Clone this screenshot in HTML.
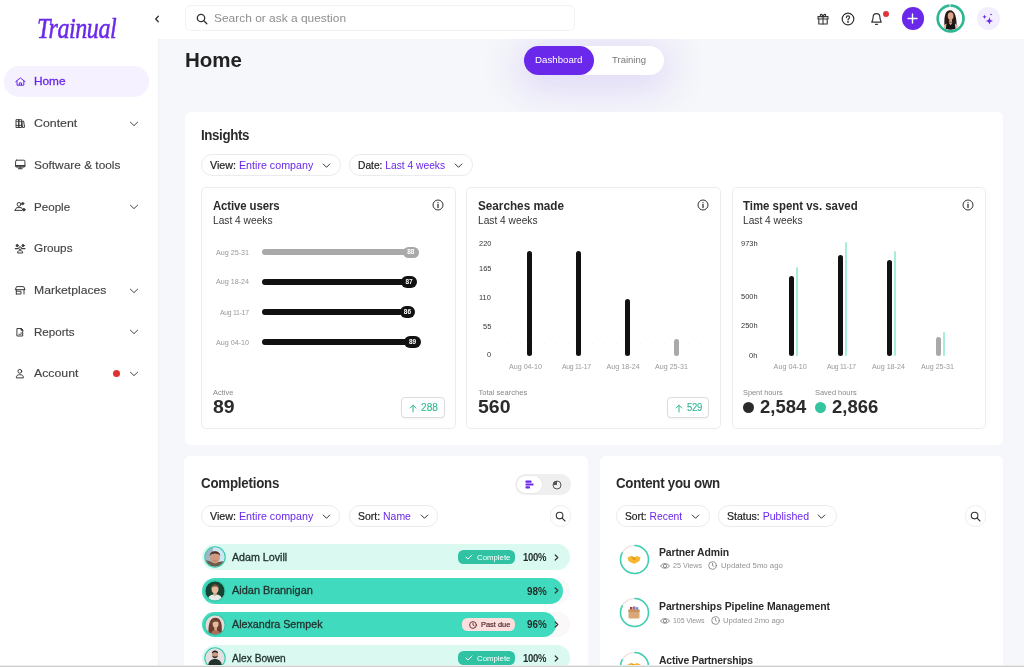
<!DOCTYPE html>
<html lang="en"><head><meta charset="utf-8"><title>Trainual - Home</title><style>
html,body{margin:0;padding:0}
body{width:1024px;height:667px;overflow:hidden;background:#f5f7fa;position:relative;font-family:"Liberation Sans",sans-serif}
.t{position:absolute;white-space:nowrap;display:block;transform-origin:0 50%}
.b{position:absolute;display:block}
</style></head><body>
<div class="b" style="left:0.0px;top:0.0px;width:157.5px;height:667.0px;background:#fff;border-radius:0px;box-shadow:1px 0 3px rgba(40,50,70,.04);"></div>
<span class="t" style="left:36.5px;top:9.2px;font-family:'Liberation Serif',serif;font-style:italic;font-weight:400;font-size:26px;line-height:34px;color:#6a28ea;transform-origin:0 0;transform:scale(.925,1.15);letter-spacing:-.5px;-webkit-text-stroke:.45px #6a28ea">Trainual</span>
<div class="b" style="left:4.0px;top:66.3px;width:145.0px;height:30.6px;background:#f5f1fe;border-radius:15.3px;"></div>
<span class="t" style="left:33.8px;top:76.4px;font-size:11.5px;line-height:11.5px;color:#6a28ea;transform:scaleX(1.027);-webkit-text-stroke:0.3px #6a28ea;">Home</span>
<span class="t" style="left:33.8px;top:118.1px;font-size:11.5px;line-height:11.5px;color:#444;transform:scaleX(1.073);-webkit-text-stroke:0.15px #444;">Content</span>
<svg class="b" style="left:129px;top:120.7px" width="10" height="6" viewBox="0 0 10 6"><path d="M1.400 1.200 L5 4.600 L8.600 1.200" fill="none" stroke="#444" stroke-width="1" stroke-linecap="round" stroke-linejoin="round"/></svg>
<span class="t" style="left:33.8px;top:159.8px;font-size:11.5px;line-height:11.5px;color:#444;transform:scaleX(1.032);-webkit-text-stroke:0.15px #444;">Software &amp; tools</span>
<span class="t" style="left:33.8px;top:201.5px;font-size:11.5px;line-height:11.5px;color:#444;transform:scaleX(1.008);-webkit-text-stroke:0.15px #444;">People</span>
<svg class="b" style="left:129px;top:204.1px" width="10" height="6" viewBox="0 0 10 6"><path d="M1.400 1.200 L5 4.600 L8.600 1.200" fill="none" stroke="#444" stroke-width="1" stroke-linecap="round" stroke-linejoin="round"/></svg>
<span class="t" style="left:33.8px;top:243.2px;font-size:11.5px;line-height:11.5px;color:#444;transform:scaleX(1.021);-webkit-text-stroke:0.15px #444;">Groups</span>
<span class="t" style="left:33.8px;top:284.9px;font-size:11.5px;line-height:11.5px;color:#444;transform:scaleX(1.059);-webkit-text-stroke:0.15px #444;">Marketplaces</span>
<svg class="b" style="left:129px;top:287.5px" width="10" height="6" viewBox="0 0 10 6"><path d="M1.400 1.200 L5 4.600 L8.600 1.200" fill="none" stroke="#444" stroke-width="1" stroke-linecap="round" stroke-linejoin="round"/></svg>
<span class="t" style="left:33.8px;top:326.6px;font-size:11.5px;line-height:11.5px;color:#444;transform:scaleX(1.008);-webkit-text-stroke:0.15px #444;">Reports</span>
<svg class="b" style="left:129px;top:329.2px" width="10" height="6" viewBox="0 0 10 6"><path d="M1.400 1.200 L5 4.600 L8.600 1.200" fill="none" stroke="#444" stroke-width="1" stroke-linecap="round" stroke-linejoin="round"/></svg>
<span class="t" style="left:33.8px;top:368.3px;font-size:11.5px;line-height:11.5px;color:#444;transform:scaleX(1.069);-webkit-text-stroke:0.15px #444;">Account</span>
<svg class="b" style="left:129px;top:370.9px" width="10" height="6" viewBox="0 0 10 6"><path d="M1.400 1.200 L5 4.600 L8.600 1.200" fill="none" stroke="#444" stroke-width="1" stroke-linecap="round" stroke-linejoin="round"/></svg>
<div class="b" style="left:113.2px;top:370.0px;width:7.0px;height:7.0px;background:#e03131;border-radius:4px;"></div>
<svg class="b" style="left:0;top:0" width="158" height="400" viewBox="0 0 158 400" fill="none" stroke="#3d3d3d" stroke-width="1" stroke-linecap="round" stroke-linejoin="round">
<g stroke="#6a28ea"><path d="M15.700 81.700 L20.400 77.900 L25.100 81.700"/><path d="M17 80.900 V85.200 H23.800 V80.900"/><path d="M19.300 85.200 V82.900 H21.500 V85.200"/></g>
<g><rect x="16.400" y="119.700" width="2.600" height="7.800"/><rect x="19" y="119.700" width="2.600" height="7.800"/><path d="M22.300 121.300 L23.600 121 L24.600 127.200 L22.900 127.500 Z"/><path d="M16.400 125.400 H21.600" /><path d="M16.400 121.600 H21.600" stroke-width=".7"/></g>
<g><rect x="15.600" y="160.200" width="9.300" height="6.900" rx="1"/><path d="M15.800 165.900 H24.700" stroke-width="1.600"/><path d="M18.300 168.700 H22.200"/><path d="M20.250 167.200 V168.700" /></g>
<g><circle cx="19" cy="204.400" r="1.900"/><path d="M15 210.400 L16.700 207.600 H21.300 L22.600 209.600"/><path d="M15 210.400 H21.800"/><circle cx="22.700" cy="203.600" r="1.100" fill="#3d3d3d"/><circle cx="23.900" cy="209.700" r="1.200" fill="#3d3d3d"/></g>
<g><circle cx="17.200" cy="245.600" r="1.100" fill="#3d3d3d"/><circle cx="23.100" cy="245.600" r="1.100" fill="#3d3d3d"/><path d="M15.400 248.600 H18" stroke-width="1.300"/><path d="M22.300 248.600 H24.900" stroke-width="1.300"/><circle cx="20.150" cy="248.200" r="1.400"/><path d="M17.600 252.600 C17.600 250.800 18.800 250.600 20.150 250.600 C21.500 250.600 22.700 250.800 22.700 252.600 Z"/></g>
<g><path d="M15.400 289.300 L16.600 286.600 H23.700 L24.900 289.300 Z"/><path d="M16.300 289.300 V294"/><path d="M24 289.300 V294"/><path d="M16.300 291.200 H21 V294 H16.300"/></g>
<g><path d="M17.300 328.500 H21 L22.700 330.200 V336 H17.300 Z"/><path d="M21 328.500 V330.200 H22.700 Z" fill="#3d3d3d"/><path d="M18.800 334.300 H21.200 V332.600" stroke-width=".8"/></g>
<g><circle cx="19.850" cy="371.300" r="1.900"/><path d="M16.300 377.500 C16.300 375.300 17.700 374.700 19.850 374.700 C22 374.700 23.400 375.300 23.400 377.500 Z"/></g>
</svg>
<div class="b" style="left:157.5px;top:0.0px;width:866.5px;height:38.5px;background:#fff;border-radius:0px;"></div>
<div class="b" style="left:147.5px;top:9.0px;width:20.0px;height:20.0px;background:#fff;border-radius:10px;box-shadow:0 0 3px rgba(40,50,70,.025);"></div>
<svg class="b" style="left:153.5px;top:14.8px" width="6" height="8" viewBox="0 0 6 8"><path d="M4.3 1.2 L1.7 4 L4.3 6.8" fill="none" stroke="#333" stroke-width="1.3" stroke-linecap="round" stroke-linejoin="round"/></svg>
<div class="b" style="left:184.6px;top:5.4px;width:390.4px;height:26.1px;background:#fff;border-radius:6px;border:1px solid #f2f2f4;box-sizing:border-box;"></div>
<svg class="b" style="left:195.5px;top:12.5px" width="12" height="12" viewBox="0 0 12 12" fill="none" stroke="#333" stroke-width="1.3" stroke-linecap="round"><circle cx="5" cy="5" r="3.7"/><path d="M7.8 7.8 L10.8 10.8"/></svg>
<span class="t" style="left:213.6px;top:12.6px;font-size:11.5px;line-height:11.5px;color:#8e8e8e;transform:scaleX(1.038);">Search or ask a question</span>
<svg class="b" style="left:816.5px;top:12.5px" width="12" height="12" viewBox="0 0 12 12" fill="none" stroke="#333" stroke-width="1.1" stroke-linejoin="round" stroke-linecap="round"><rect x="1" y="3.6" width="10" height="2.4"/><path d="M1.8 6 V11 H10.2 V6"/><path d="M6 3.6 V11"/><path d="M6 3.6 C4 3.6 3 2.8 3.4 1.8 C3.9 .8 5.6 1.4 6 3.6 C6.4 1.4 8.100 .8 8.6 1.8 C9 2.8 8 3.6 6 3.6"/></svg>
<svg class="b" style="left:841px;top:12px" width="14" height="14" viewBox="0 0 14 14" fill="none" stroke="#333" stroke-width="1.2" stroke-linecap="round"><circle cx="7" cy="7" r="5.8"/><path d="M5.4 5.6 C5.4 4.4 6.2 3.9 7 3.9 C7.9 3.9 8.6 4.5 8.6 5.4 C8.6 6.5 7 6.6 7 7.9"/><circle cx="7" cy="9.9" r=".35" fill="#333"/></svg>
<svg class="b" style="left:870px;top:11.5px" width="13" height="14" viewBox="0 0 13 14" fill="none" stroke="#333" stroke-width="1.2" stroke-linecap="round" stroke-linejoin="round"><path d="M6.500 1.600 C4.200 1.600 3.100 3.300 3.100 5.300 C3.100 8.300 1.800 9.400 1.800 10.200 H11.200 C11.200 9.400 9.900 8.300 9.900 5.300 C9.900 3.300 8.800 1.600 6.500 1.600 Z"/><path d="M5.500 12.300 H7.500"/></svg>
<div class="b" style="left:883.0px;top:10.5px;width:6.0px;height:6.0px;background:#e0353b;border-radius:3px;"></div>
<div class="b" style="left:901.5px;top:7.3px;width:22.5px;height:22.5px;background:#6a28ea;border-radius:12px;"></div>
<svg class="b" style="left:907.2px;top:13px" width="11" height="11" viewBox="0 0 11 11"><path d="M5.500 1 V10 M1 5.500 H10" stroke="#fff" stroke-width="1.4" stroke-linecap="round"/></svg>
<svg class="b" style="left:936px;top:4px" width="29" height="29" viewBox="0 0 29 29"><defs><clipPath id="cpa"><circle cx="14.600" cy="14.500" r="11.200"/></clipPath></defs><circle cx="14.600" cy="14.500" r="12.900" fill="#fff" stroke="#2eb793" stroke-width="2.700"/><path d="M14 0 V4" stroke="#fff" stroke-width=".9"/><g clip-path="url(#cpa)"><rect width="29" height="29" fill="#fdfbfb"/><path d="M8.800 25 C7.600 15 8.500 6.200 13.800 6.200 C19.500 6.200 20.600 14 20.800 25 Z" fill="#2a1a15"/><ellipse cx="14.600" cy="12" rx="2.900" ry="3.700" fill="#dcA78d"/><path d="M13.200 15 H16 V19 H13.200 Z" fill="#d39b82"/><path d="M7.600 21.500 L10.500 19.500 L10.500 26 L8 26 Z" fill="#e2b39c"/><path d="M21.800 21.500 L19 19.500 L19 26 L21.500 26 Z" fill="#e2b39c"/><path d="M10 26 C10 20.500 11 18.600 14.600 18.600 C18.200 18.600 19.400 20.500 19.400 26 Z" fill="#141418"/><path d="M12.600 18.700 L14.600 21.200 L16.500 18.700 Z" fill="#d9a489"/></g></svg>
<div class="b" style="left:976.6px;top:6.8px;width:23.2px;height:23.2px;background:#f3eefd;border-radius:12px;"></div>
<svg class="b" style="left:980px;top:11px" width="16" height="16" viewBox="980 11 16 16" fill="#6a28ea"><path d="M989.400 17.300 L990.400 19.900 L993 20.900 L990.400 21.900 L989.400 24.500 L988.400 21.900 L985.800 20.900 L988.400 19.900 Z"/><path d="M984.500 14.600 L985.100 16.200 L986.700 16.800 L985.100 17.400 L984.500 19 L983.900 17.400 L982.300 16.800 L983.900 16.200 Z"/><circle cx="991" cy="14.500" r=".8"/></svg>
<span class="t" style="left:185.0px;top:50.1px;font-size:20px;line-height:20px;color:#222;font-weight:700;transform:scaleX(1.026);">Home</span>
<div class="b" style="left:157.5px;top:38.5px;width:866.5px;height:200px;overflow:hidden"><div class="b" style="left:366.5px;top:7.3px;width:140.2px;height:29.4px;border-radius:15px;background:#fff;box-shadow:0 7px 38px 9px rgba(106,40,234,.14)"></div></div>
<div class="b" style="left:524.0px;top:45.8px;width:69.8px;height:29.4px;background:#6a28ea;border-radius:15px;"></div>
<span class="t" style="left:535.0px;top:55.7px;font-size:9.3px;line-height:9.3px;color:#fff;transform:scaleX(1.044);">Dashboard</span>
<span class="t" style="left:611.5px;top:55.7px;font-size:9.3px;line-height:9.3px;color:#777;transform:scaleX(1.025);">Training</span>
<div class="b" style="left:184.5px;top:111.5px;width:818.7px;height:333.5px;background:#fff;border-radius:6px;"></div>
<span class="t" style="left:201.4px;top:128.3px;font-size:14px;line-height:14px;color:#2b2b2b;font-weight:700;letter-spacing:-0.40px;transform:scaleX(0.950);">Insights</span>
<div class="b" style="left:201.4px;top:154.2px;width:139.2px;height:21.8px;background:#fff;border-radius:10.900000000000006px;border:1px solid #ebebee;box-sizing:border-box;"></div>
<span class="t" style="left:210.0px;top:161.2px;font-size:10.3px;line-height:10.3px;letter-spacing:0.00px;transform:scaleX(1.039);color:#222;-webkit-text-stroke:.2px #222">View: <span style="color:#6a28ea;-webkit-text-stroke:0">Entire company</span></span>
<svg class="b" style="left:322.0px;top:163.3px" width="9" height="6" viewBox="0 0 9 6"><path d="M1.200 1 L4.500 4.300 L7.800 1" fill="none" stroke="#333" stroke-width="1" stroke-linecap="round" stroke-linejoin="round"/></svg>
<div class="b" style="left:349.0px;top:154.2px;width:124.0px;height:21.8px;background:#fff;border-radius:10.900000000000006px;border:1px solid #ebebee;box-sizing:border-box;"></div>
<span class="t" style="left:357.9px;top:161.2px;font-size:10.3px;line-height:10.3px;letter-spacing:0.00px;transform:scaleX(0.994);color:#222;-webkit-text-stroke:.2px #222">Date: <span style="color:#6a28ea;-webkit-text-stroke:0">Last 4 weeks</span></span>
<svg class="b" style="left:453.8px;top:163.3px" width="9" height="6" viewBox="0 0 9 6"><path d="M1.200 1 L4.500 4.300 L7.800 1" fill="none" stroke="#333" stroke-width="1" stroke-linecap="round" stroke-linejoin="round"/></svg>
<div class="b" style="left:201.2px;top:187.3px;width:254.4px;height:241.7px;background:#fff;border-radius:5px;border:1px solid #ececef;box-sizing:border-box;"></div>
<span class="t" style="left:212.8px;top:199.9px;font-size:12px;line-height:12px;color:#2b2b2b;font-weight:700;letter-spacing:-0.12px;transform:scaleX(0.950);">Active users</span>
<span class="t" style="left:212.8px;top:215.8px;font-size:10.3px;line-height:10.3px;color:#333;transform:scaleX(0.990);">Last 4 weeks</span>
<svg class="b" style="left:431.5px;top:199.0px" width="12" height="12" viewBox="0 0 12 12" fill="none" stroke="#333" stroke-width="1"><circle cx="6" cy="6" r="5"/><path d="M6 5.400 V8.600" stroke-width="1.300" stroke-linecap="round"/><circle cx="6" cy="3.600" r=".7" fill="#333" stroke="none"/></svg>
<div class="b" style="left:466.4px;top:187.3px;width:254.8px;height:241.7px;background:#fff;border-radius:5px;border:1px solid #ececef;box-sizing:border-box;"></div>
<span class="t" style="left:478.0px;top:199.9px;font-size:12px;line-height:12px;color:#2b2b2b;font-weight:700;transform:scaleX(0.977);">Searches made</span>
<span class="t" style="left:478.0px;top:215.8px;font-size:10.3px;line-height:10.3px;color:#333;transform:scaleX(0.990);">Last 4 weeks</span>
<svg class="b" style="left:697.1px;top:199.0px" width="12" height="12" viewBox="0 0 12 12" fill="none" stroke="#333" stroke-width="1"><circle cx="6" cy="6" r="5"/><path d="M6 5.400 V8.600" stroke-width="1.300" stroke-linecap="round"/><circle cx="6" cy="3.600" r=".7" fill="#333" stroke="none"/></svg>
<div class="b" style="left:731.5px;top:187.3px;width:254.9px;height:241.7px;background:#fff;border-radius:5px;border:1px solid #ececef;box-sizing:border-box;"></div>
<span class="t" style="left:743.1px;top:199.9px;font-size:12px;line-height:12px;color:#2b2b2b;font-weight:700;transform:scaleX(0.951);">Time spent vs. saved</span>
<span class="t" style="left:743.1px;top:215.8px;font-size:10.3px;line-height:10.3px;color:#333;transform:scaleX(0.990);">Last 4 weeks</span>
<svg class="b" style="left:962.3px;top:199.0px" width="12" height="12" viewBox="0 0 12 12" fill="none" stroke="#333" stroke-width="1"><circle cx="6" cy="6" r="5"/><path d="M6 5.400 V8.600" stroke-width="1.300" stroke-linecap="round"/><circle cx="6" cy="3.600" r=".7" fill="#333" stroke="none"/></svg>
<span class="t" style="left:215.9px;top:248.8px;font-size:7.2px;line-height:7.2px;color:#999;">Aug 25-31</span>
<div class="b" style="left:261.7px;top:249.4px;width:145.0px;height:5.8px;background:#a9a9a9;border-radius:3px;"></div>
<div class="b" style="left:402.7px;top:246.5px;width:16.3px;height:11.6px;background:#a9a9a9;border-radius:6px;"></div>
<span class="t" style="left:407.2px;top:249.2px;font-size:6.5px;line-height:6.5px;color:#fff;font-weight:700;">88</span>
<span class="t" style="left:215.9px;top:278.4px;font-size:7.2px;line-height:7.2px;color:#999;">Aug 18-24</span>
<div class="b" style="left:261.7px;top:279.0px;width:143.3px;height:5.8px;background:#111;border-radius:3px;"></div>
<div class="b" style="left:401.0px;top:276.1px;width:16.2px;height:11.6px;background:#111;border-radius:6px;"></div>
<span class="t" style="left:405.5px;top:278.8px;font-size:6.5px;line-height:6.5px;color:#fff;font-weight:700;">87</span>
<span class="t" style="left:220.1px;top:308.6px;font-size:7.2px;line-height:7.2px;color:#999;letter-spacing:-0.27px;transform:scaleX(0.950);">Aug 11-17</span>
<div class="b" style="left:261.7px;top:309.2px;width:141.8px;height:5.8px;background:#111;border-radius:3px;"></div>
<div class="b" style="left:399.5px;top:306.3px;width:15.8px;height:11.6px;background:#111;border-radius:6px;"></div>
<span class="t" style="left:403.8px;top:309.0px;font-size:6.5px;line-height:6.5px;color:#fff;font-weight:700;">86</span>
<span class="t" style="left:215.9px;top:338.5px;font-size:7.2px;line-height:7.2px;color:#999;">Aug 04-10</span>
<div class="b" style="left:261.7px;top:339.1px;width:146.5px;height:5.8px;background:#111;border-radius:3px;"></div>
<div class="b" style="left:404.2px;top:336.2px;width:16.8px;height:11.6px;background:#111;border-radius:6px;"></div>
<span class="t" style="left:409.0px;top:338.9px;font-size:6.5px;line-height:6.5px;color:#fff;font-weight:700;">89</span>
<span class="t" style="left:213.0px;top:388.6px;font-size:7.6px;line-height:7.6px;color:#888;transform:scaleX(0.986);">Active</span>
<span class="t" style="left:213.0px;top:398.2px;font-size:18px;line-height:18px;color:#2b2b2b;font-weight:700;transform:scaleX(1.079);">89</span>
<div class="b" style="left:400.5px;top:397.2px;width:44.3px;height:21.1px;background:#fff;border-radius:4px;border:1px solid #dcdce0;box-sizing:border-box;box-shadow:0 1px 2px rgba(0,0,0,.05);"></div>
<svg class="b" style="left:409.0px;top:403.5px" width="8" height="9" viewBox="0 0 8 9"><path d="M4 8 V1.200 M1.200 4 L4 1.200 L6.800 4" fill="none" stroke="#2fb892" stroke-width="1" stroke-linecap="round" stroke-linejoin="round"/></svg>
<span class="t" style="left:420.9px;top:402.7px;font-size:10px;line-height:10px;color:#2fb892;transform:scaleX(1.013);-webkit-text-stroke:0.1px #2fb892;">288</span>
<div class="b" style="left:508px;top:241.7px;width:194px;height:1px;background:repeating-linear-gradient(90deg,#f1f1f4 0 1.5px,transparent 1.5px 12px)"></div>
<div class="b" style="left:508px;top:262.0px;width:194px;height:1px;background:repeating-linear-gradient(90deg,#f1f1f4 0 1.5px,transparent 1.5px 12px)"></div>
<div class="b" style="left:508px;top:282.3px;width:194px;height:1px;background:repeating-linear-gradient(90deg,#f1f1f4 0 1.5px,transparent 1.5px 12px)"></div>
<div class="b" style="left:508px;top:302.1px;width:194px;height:1px;background:repeating-linear-gradient(90deg,#f1f1f4 0 1.5px,transparent 1.5px 12px)"></div>
<div class="b" style="left:508px;top:322.1px;width:194px;height:1px;background:repeating-linear-gradient(90deg,#f1f1f4 0 1.5px,transparent 1.5px 12px)"></div>
<div class="b" style="left:508px;top:342.5px;width:194px;height:1px;background:repeating-linear-gradient(90deg,#f1f1f4 0 1.5px,transparent 1.5px 12px)"></div>
<span class="t" style="left:478.8px;top:239.7px;font-size:7px;line-height:7px;color:#333;transform:scaleX(1.060);">220</span>
<span class="t" style="left:478.8px;top:265.0px;font-size:7px;line-height:7px;color:#333;transform:scaleX(1.060);">165</span>
<span class="t" style="left:479.4px;top:294.4px;font-size:7px;line-height:7px;color:#333;transform:scaleX(1.060);">110</span>
<span class="t" style="left:482.9px;top:323.1px;font-size:7px;line-height:7px;color:#333;transform:scaleX(1.060);">55</span>
<span class="t" style="left:487.1px;top:351.4px;font-size:7px;line-height:7px;color:#333;transform:scaleX(1.060);">0</span>
<div class="b" style="left:527.0px;top:250.8px;width:5.2px;height:105.5px;background:#111;border-radius:3px;"></div>
<div class="b" style="left:576.3px;top:250.8px;width:5.2px;height:105.5px;background:#111;border-radius:3px;"></div>
<div class="b" style="left:624.9px;top:298.6px;width:5.2px;height:57.7px;background:#111;border-radius:3px;"></div>
<div class="b" style="left:673.8px;top:338.7px;width:5.2px;height:17.6px;background:#a9a9a9;border-radius:3px;"></div>
<span class="t" style="left:508.6px;top:363.1px;font-size:7.2px;line-height:7.2px;color:#999;transform:scaleX(0.990);">Aug 04-10</span>
<span class="t" style="left:561.7px;top:363.1px;font-size:7.2px;line-height:7.2px;color:#999;letter-spacing:-0.26px;transform:scaleX(0.950);">Aug 11-17</span>
<span class="t" style="left:606.5px;top:363.1px;font-size:7.2px;line-height:7.2px;color:#999;">Aug 18-24</span>
<span class="t" style="left:655.4px;top:363.1px;font-size:7.2px;line-height:7.2px;color:#999;transform:scaleX(0.990);">Aug 25-31</span>
<span class="t" style="left:478.4px;top:388.6px;font-size:7.6px;line-height:7.6px;color:#888;">Total searches</span>
<span class="t" style="left:478.4px;top:398.4px;font-size:18px;line-height:18px;color:#2b2b2b;font-weight:700;transform:scaleX(1.082);">560</span>
<div class="b" style="left:666.5px;top:397.2px;width:42.8px;height:21.1px;background:#fff;border-radius:4px;border:1px solid #dcdce0;box-sizing:border-box;box-shadow:0 1px 2px rgba(0,0,0,.05);"></div>
<svg class="b" style="left:675.0px;top:403.5px" width="8" height="9" viewBox="0 0 8 9"><path d="M4 8 V1.200 M1.200 4 L4 1.200 L6.800 4" fill="none" stroke="#2fb892" stroke-width="1" stroke-linecap="round" stroke-linejoin="round"/></svg>
<span class="t" style="left:686.9px;top:402.7px;font-size:10px;line-height:10px;color:#2fb892;letter-spacing:-0.24px;transform:scaleX(0.950);-webkit-text-stroke:0.1px #2fb892;">529</span>
<div class="b" style="left:773px;top:241.7px;width:194px;height:1px;background:repeating-linear-gradient(90deg,#f1f1f4 0 1.5px,transparent 1.5px 12px)"></div>
<div class="b" style="left:773px;top:262.0px;width:194px;height:1px;background:repeating-linear-gradient(90deg,#f1f1f4 0 1.5px,transparent 1.5px 12px)"></div>
<div class="b" style="left:773px;top:282.3px;width:194px;height:1px;background:repeating-linear-gradient(90deg,#f1f1f4 0 1.5px,transparent 1.5px 12px)"></div>
<div class="b" style="left:773px;top:302.1px;width:194px;height:1px;background:repeating-linear-gradient(90deg,#f1f1f4 0 1.5px,transparent 1.5px 12px)"></div>
<div class="b" style="left:773px;top:322.1px;width:194px;height:1px;background:repeating-linear-gradient(90deg,#f1f1f4 0 1.5px,transparent 1.5px 12px)"></div>
<div class="b" style="left:773px;top:342.5px;width:194px;height:1px;background:repeating-linear-gradient(90deg,#f1f1f4 0 1.5px,transparent 1.5px 12px)"></div>
<span class="t" style="left:740.6px;top:239.7px;font-size:7px;line-height:7px;color:#333;transform:scaleX(1.060);">973h</span>
<span class="t" style="left:740.6px;top:292.6px;font-size:7px;line-height:7px;color:#333;transform:scaleX(1.060);">500h</span>
<span class="t" style="left:740.6px;top:322.4px;font-size:7px;line-height:7px;color:#333;transform:scaleX(1.060);">250h</span>
<span class="t" style="left:748.8px;top:351.5px;font-size:7px;line-height:7px;color:#333;transform:scaleX(1.060);">0h</span>
<div class="b" style="left:795.9px;top:267.3px;width:2.2px;height:89.0px;background:#a8ecdc;border-radius:1.2px;"></div>
<div class="b" style="left:789.0px;top:276.0px;width:5.2px;height:80.3px;background:#111;border-radius:3px;"></div>
<div class="b" style="left:844.8px;top:242.4px;width:2.2px;height:113.9px;background:#a8ecdc;border-radius:1.2px;"></div>
<div class="b" style="left:837.9px;top:254.6px;width:5.2px;height:101.7px;background:#111;border-radius:3px;"></div>
<div class="b" style="left:893.8px;top:250.8px;width:2.2px;height:105.5px;background:#a8ecdc;border-radius:1.2px;"></div>
<div class="b" style="left:886.9px;top:260.4px;width:5.2px;height:95.9px;background:#111;border-radius:3px;"></div>
<div class="b" style="left:942.8px;top:331.5px;width:2.2px;height:24.8px;background:#a8ecdc;border-radius:1.2px;"></div>
<div class="b" style="left:935.9px;top:336.9px;width:5.2px;height:19.4px;background:#a9a9a9;border-radius:3px;"></div>
<span class="t" style="left:773.6px;top:363.1px;font-size:7.2px;line-height:7.2px;color:#999;">Aug 04-10</span>
<span class="t" style="left:827.1px;top:363.1px;font-size:7.2px;line-height:7.2px;color:#999;letter-spacing:-0.26px;transform:scaleX(0.950);">Aug 11-17</span>
<span class="t" style="left:871.9px;top:363.1px;font-size:7.2px;line-height:7.2px;color:#999;transform:scaleX(0.990);">Aug 18-24</span>
<span class="t" style="left:920.9px;top:363.1px;font-size:7.2px;line-height:7.2px;color:#999;transform:scaleX(0.990);">Aug 25-31</span>
<span class="t" style="left:743.4px;top:388.6px;font-size:7.6px;line-height:7.6px;color:#888;transform:scaleX(0.966);">Spent hours</span>
<span class="t" style="left:815.3px;top:388.6px;font-size:7.6px;line-height:7.6px;color:#888;transform:scaleX(0.977);">Saved hours</span>
<div class="b" style="left:742.8px;top:402.2px;width:11.0px;height:11.0px;background:#2b2b2b;border-radius:6px;"></div>
<span class="t" style="left:760.2px;top:398.4px;font-size:18px;line-height:18px;color:#2b2b2b;font-weight:700;transform:scaleX(1.028);">2,584</span>
<div class="b" style="left:815.1px;top:402.2px;width:11.0px;height:11.0px;background:#35c4a0;border-radius:6px;"></div>
<span class="t" style="left:832.1px;top:398.4px;font-size:18px;line-height:18px;color:#2b2b2b;font-weight:700;transform:scaleX(1.028);">2,866</span>
<div class="b" style="left:184.3px;top:456.3px;width:403.9px;height:223.7px;background:#fff;border-radius:6px;"></div>
<span class="t" style="left:201.3px;top:476.0px;font-size:14px;line-height:14px;color:#2b2b2b;font-weight:700;letter-spacing:-0.23px;transform:scaleX(0.950);">Completions</span>
<div class="b" style="left:515.3px;top:473.7px;width:56.2px;height:21.4px;background:#efeff0;border-radius:11px;"></div>
<div class="b" style="left:517.3px;top:475.6px;width:24.5px;height:17.8px;background:#fff;border-radius:9px;box-shadow:0 0 2px rgba(0,0,0,.08);"></div>
<svg class="b" style="left:525px;top:480px" width="9" height="9" viewBox="0 0 9 9" fill="#6a28ea"><rect x="0.500" y="0.600" width="6" height="2.200" rx=".6"/><rect x="0.500" y="3.400" width="8" height="2.200" rx=".6"/><rect x="0.500" y="6.200" width="4.500" height="2.200" rx=".6"/></svg>
<svg class="b" style="left:551.5px;top:479.500px" width="10" height="10" viewBox="0 0 10 10"><circle cx="5" cy="5" r="4" fill="none" stroke="#555" stroke-width="1"/><path d="M5 5 V1 A4 4 0 0 0 1 5 Z" fill="#555"/></svg>
<div class="b" style="left:201.3px;top:505.4px;width:139.1px;height:21.4px;background:#fff;border-radius:10.699999999999989px;border:1px solid #ebebee;box-sizing:border-box;"></div>
<span class="t" style="left:210.0px;top:512.2px;font-size:10.3px;line-height:10.3px;letter-spacing:0.00px;transform:scaleX(1.039);color:#222;-webkit-text-stroke:.2px #222">View: <span style="color:#6a28ea;-webkit-text-stroke:0">Entire company</span></span>
<svg class="b" style="left:322.3px;top:514.3px" width="9" height="6" viewBox="0 0 9 6"><path d="M1.200 1 L4.500 4.300 L7.800 1" fill="none" stroke="#333" stroke-width="1" stroke-linecap="round" stroke-linejoin="round"/></svg>
<div class="b" style="left:349.0px;top:505.4px;width:89.4px;height:21.4px;background:#fff;border-radius:10.699999999999989px;border:1px solid #ebebee;box-sizing:border-box;"></div>
<span class="t" style="left:357.6px;top:512.2px;font-size:10.3px;line-height:10.3px;letter-spacing:0.00px;transform:scaleX(1.016);color:#222;-webkit-text-stroke:.2px #222">Sort: <span style="color:#6a28ea;-webkit-text-stroke:0">Name</span></span>
<svg class="b" style="left:420.3px;top:514.3px" width="9" height="6" viewBox="0 0 9 6"><path d="M1.200 1 L4.500 4.300 L7.800 1" fill="none" stroke="#333" stroke-width="1" stroke-linecap="round" stroke-linejoin="round"/></svg>
<div class="b" style="left:549.9px;top:505.3px;width:21.4px;height:21.4px;background:#fff;border-radius:11px;border:1px solid #ededf0;box-sizing:border-box;"></div>
<svg class="b" style="left:555.1px;top:510.5px" width="11" height="11" viewBox="0 0 11 11" fill="none" stroke="#333" stroke-width="1.100" stroke-linecap="round"><circle cx="4.600" cy="4.600" r="3.300"/><path d="M7.200 7.200 L10 10"/></svg>
<div class="b" style="left:201.8px;top:544.3px;width:368.7px;height:25.9px;background:#d9f9f1;border-radius:13px;"></div>
<svg class="b" style="left:203.9px;top:546.2px" width="22" height="22" viewBox="0 0 22 22"><defs><clipPath id="av0"><circle cx="11" cy="11" r="9.800"/></clipPath></defs><g clip-path="url(#av0)"><rect width="22" height="22" fill="#cfe6f5"/><rect x="0" y="0" width="9" height="22" fill="#9fb6c4"/><path d="M0 22 V15 C4 13.500 6 16 11 17 C16 16 18 14.500 22 16 V22 Z" fill="#6f5a4e"/><ellipse cx="11" cy="11.500" rx="4.900" ry="6" fill="#cf9a80"/><path d="M5.800 10 C5 3.500 17 3.500 16.200 10 C14.500 6.800 7.500 6.800 5.800 10 Z" fill="#4a3428"/><path d="M8.600 14.300 C10 15.600 12 15.600 13.400 14.300 C12 15 10 15 8.600 14.300 Z" fill="#8a4f42"/></g><circle cx="11" cy="11" r="10.200" fill="none" stroke="#35c9ab" stroke-width="1.100"/></svg>
<span class="t" style="left:231.8px;top:552.6px;font-size:10.3px;line-height:10.3px;color:#23332e;transform:scaleX(1.037);-webkit-text-stroke:0.3px #23332e;">Adam Lovill</span>
<div class="b" style="left:458.1px;top:550.2px;width:57.4px;height:13.9px;background:#2fc3a4;border-radius:5.5px;"></div>
<svg class="b" style="left:465.1px;top:554.2px" width="8" height="6" viewBox="0 0 8 6"><path d="M1 3.200 L3 5 L7 1" fill="none" stroke="#fff" stroke-width="1" stroke-linecap="round" stroke-linejoin="round"/></svg>
<span class="t" style="left:477.1px;top:553.7px;font-size:7.3px;line-height:7.3px;color:#fff;transform:scaleX(1.069);">Complete</span>
<span class="t" style="left:522.9px;top:552.9px;font-size:10px;line-height:10px;color:#1f2a27;font-weight:700;letter-spacing:-0.31px;transform:scaleX(0.950);">100%</span>
<svg class="b" style="left:553.8px;top:553.8px" width="5" height="7" viewBox="0 0 5 7"><path d="M1.200 1 L3.800 3.500 L1.200 6" fill="none" stroke="#333" stroke-width="1.200" stroke-linecap="round" stroke-linejoin="round"/></svg>
<div class="b" style="left:201.8px;top:577.9px;width:368.7px;height:25.9px;background:#faf8f8;border-radius:13px;"></div>
<div class="b" style="left:201.8px;top:577.9px;width:361.7px;height:25.9px;background:#40dbbf;border-radius:13px;"></div>
<svg class="b" style="left:203.9px;top:579.9px" width="22" height="22" viewBox="0 0 22 22"><defs><clipPath id="av1"><circle cx="11" cy="11" r="9.800"/></clipPath></defs><g clip-path="url(#av1)"><rect width="22" height="22" fill="#164433"/><path d="M9.300 12 H12.700 V16 H9.300 Z" fill="#d9a98d"/><ellipse cx="11" cy="9" rx="3.500" ry="4.300" fill="#e6b99d"/><path d="M7.300 8.200 C6.800 3.200 15.200 3.200 14.700 8.200 C13.500 5.800 8.500 5.800 7.300 8.200 Z" fill="#7a4e33"/><path d="M3.500 22 C3.500 16.800 6.500 14.800 9 14.600 L11 16.200 L13 14.600 C15.500 14.800 18.500 16.800 18.500 22 Z" fill="#e4e9e6"/></g><circle cx="11" cy="11" r="10.200" fill="none" stroke="#35c9ab" stroke-width="1.100"/></svg>
<span class="t" style="left:231.8px;top:586.3px;font-size:10.3px;line-height:10.3px;color:#23332e;transform:scaleX(1.062);-webkit-text-stroke:0.3px #23332e;">Aidan Brannigan</span>
<span class="t" style="left:526.6px;top:586.5px;font-size:10px;line-height:10px;color:#1f2a27;font-weight:700;transform:scaleX(0.984);">98%</span>
<svg class="b" style="left:553.8px;top:587.4px" width="5" height="7" viewBox="0 0 5 7"><path d="M1.200 1 L3.800 3.500 L1.200 6" fill="none" stroke="#333" stroke-width="1.200" stroke-linecap="round" stroke-linejoin="round"/></svg>
<div class="b" style="left:201.8px;top:611.6px;width:368.7px;height:25.9px;background:#faf8f8;border-radius:13px;"></div>
<div class="b" style="left:201.8px;top:611.6px;width:354.7px;height:25.9px;background:#40dbbf;border-radius:13px;"></div>
<svg class="b" style="left:203.9px;top:613.5px" width="22" height="22" viewBox="0 0 22 22"><defs><clipPath id="av2"><circle cx="11" cy="11" r="9.800"/></clipPath></defs><g clip-path="url(#av2)"><rect width="22" height="22" fill="#e6d9d6"/><path d="M4.500 22 C4 11 5.500 3.800 11.300 3.800 C17.500 3.800 18.500 11 17.500 22 Z" fill="#6a3e2c"/><ellipse cx="11.600" cy="9.800" rx="3" ry="3.900" fill="#e6b8a0"/><path d="M8.600 9 C8.800 5.500 13 4.800 14.800 8 C13 7.200 10.500 7 8.600 9 Z" fill="#5a3424"/><path d="M10.300 13 H12.900 V17 H10.300 Z" fill="#dba88f"/><path d="M6.500 22 C6.500 18 9 16.300 11.600 16.300 C14.200 16.300 16.500 18 16.500 22 Z" fill="#a8705c"/></g><circle cx="11" cy="11" r="10.200" fill="none" stroke="#35c9ab" stroke-width="1.100"/></svg>
<span class="t" style="left:231.8px;top:619.9px;font-size:10.3px;line-height:10.3px;color:#23332e;transform:scaleX(1.040);-webkit-text-stroke:0.3px #23332e;">Alexandra Sempek</span>
<div class="b" style="left:462.2px;top:617.5px;width:52.9px;height:13.9px;background:#fbdedd;border-radius:5.5px;"></div>
<svg class="b" style="left:469.2px;top:620.5px" width="8" height="8" viewBox="0 0 8 8" fill="none" stroke="#5a2a2a" stroke-width=".9" stroke-linecap="round"><circle cx="4" cy="4" r="3.400"/><path d="M4 2.200 V4 L5.200 4.800"/></svg>
<span class="t" style="left:480.7px;top:621.0px;font-size:7.3px;line-height:7.3px;color:#4a2222;transform:scaleX(1.020);-webkit-text-stroke:0.15px #4a2222;">Past due</span>
<span class="t" style="left:526.6px;top:620.2px;font-size:10px;line-height:10px;color:#1f2a27;font-weight:700;transform:scaleX(0.984);">96%</span>
<svg class="b" style="left:553.8px;top:621.0px" width="5" height="7" viewBox="0 0 5 7"><path d="M1.200 1 L3.800 3.500 L1.200 6" fill="none" stroke="#333" stroke-width="1.200" stroke-linecap="round" stroke-linejoin="round"/></svg>
<div class="b" style="left:201.8px;top:645.2px;width:368.7px;height:25.9px;background:#d9f9f1;border-radius:13px;"></div>
<svg class="b" style="left:203.9px;top:647.2px" width="22" height="22" viewBox="0 0 22 22"><defs><clipPath id="av3"><circle cx="11" cy="11" r="9.800"/></clipPath></defs><g clip-path="url(#av3)"><rect width="22" height="22" fill="#e3dedf"/><ellipse cx="11" cy="7.300" rx="2.900" ry="3.600" fill="#c99b82"/><path d="M7.900 6.800 C7.600 2.400 14.400 2.400 14.100 6.800 C13 4.800 9 4.800 7.900 6.800 Z" fill="#2a201b"/><path d="M8.100 8.200 C8.400 12.200 13.600 12.200 13.900 8.200 C13 10 9 10 8.100 8.200 Z" fill="#382a22"/><path d="M3.800 22 C3.800 14.200 6.800 12 11 12 C15.200 12 18.200 14.200 18.200 22 Z" fill="#22332d"/></g><circle cx="11" cy="11" r="10.200" fill="none" stroke="#35c9ab" stroke-width="1.100"/></svg>
<span class="t" style="left:231.8px;top:653.6px;font-size:10.3px;line-height:10.3px;color:#23332e;transform:scaleX(0.989);-webkit-text-stroke:0.3px #23332e;">Alex Bowen</span>
<div class="b" style="left:458.1px;top:651.2px;width:57.4px;height:13.9px;background:#2fc3a4;border-radius:5.5px;"></div>
<svg class="b" style="left:465.1px;top:655.2px" width="8" height="6" viewBox="0 0 8 6"><path d="M1 3.200 L3 5 L7 1" fill="none" stroke="#fff" stroke-width="1" stroke-linecap="round" stroke-linejoin="round"/></svg>
<span class="t" style="left:477.1px;top:654.6px;font-size:7.3px;line-height:7.3px;color:#fff;transform:scaleX(1.069);">Complete</span>
<span class="t" style="left:522.9px;top:653.8px;font-size:10px;line-height:10px;color:#1f2a27;font-weight:700;letter-spacing:-0.31px;transform:scaleX(0.950);">100%</span>
<svg class="b" style="left:553.8px;top:654.7px" width="5" height="7" viewBox="0 0 5 7"><path d="M1.200 1 L3.800 3.500 L1.200 6" fill="none" stroke="#333" stroke-width="1.200" stroke-linecap="round" stroke-linejoin="round"/></svg>
<div class="b" style="left:599.9px;top:456.3px;width:403.3px;height:223.7px;background:#fff;border-radius:6px;"></div>
<span class="t" style="left:616.3px;top:476.0px;font-size:14px;line-height:14px;color:#2b2b2b;font-weight:700;letter-spacing:-0.28px;transform:scaleX(0.950);">Content you own</span>
<div class="b" style="left:616.3px;top:505.4px;width:93.5px;height:21.4px;background:#fff;border-radius:10.699999999999989px;border:1px solid #ebebee;box-sizing:border-box;"></div>
<span class="t" style="left:625.0px;top:512.2px;font-size:10.3px;line-height:10.3px;letter-spacing:0.00px;transform:scaleX(0.999);color:#222;-webkit-text-stroke:.2px #222">Sort: <span style="color:#6a28ea;-webkit-text-stroke:0">Recent</span></span>
<svg class="b" style="left:691.4px;top:514.3px" width="9" height="6" viewBox="0 0 9 6"><path d="M1.200 1 L4.500 4.300 L7.800 1" fill="none" stroke="#333" stroke-width="1" stroke-linecap="round" stroke-linejoin="round"/></svg>
<div class="b" style="left:717.6px;top:505.4px;width:119.0px;height:21.4px;background:#fff;border-radius:10.699999999999989px;border:1px solid #ebebee;box-sizing:border-box;"></div>
<span class="t" style="left:726.7px;top:512.2px;font-size:10.3px;line-height:10.3px;letter-spacing:0.00px;transform:scaleX(1.023);color:#222;-webkit-text-stroke:.2px #222">Status: <span style="color:#6a28ea;-webkit-text-stroke:0">Published</span></span>
<svg class="b" style="left:817.3px;top:514.3px" width="9" height="6" viewBox="0 0 9 6"><path d="M1.200 1 L4.500 4.300 L7.800 1" fill="none" stroke="#333" stroke-width="1" stroke-linecap="round" stroke-linejoin="round"/></svg>
<div class="b" style="left:964.9px;top:505.3px;width:21.4px;height:21.4px;background:#fff;border-radius:11px;border:1px solid #ededf0;box-sizing:border-box;"></div>
<svg class="b" style="left:970.1px;top:510.5px" width="11" height="11" viewBox="0 0 11 11" fill="none" stroke="#333" stroke-width="1.100" stroke-linecap="round"><circle cx="4.600" cy="4.600" r="3.300"/><path d="M7.200 7.200 L10 10"/></svg>
<svg class="b" style="left:618.9px;top:543.9px" width="31" height="31" viewBox="0 0 31 31"><circle cx="15.500" cy="15.500" r="14" fill="#fff" stroke="#f1e6e6" stroke-width="1.500"/><circle cx="15.500" cy="15.500" r="14" fill="none" stroke="#38d1b2" stroke-width="1.500" stroke-dasharray="72 16" transform="rotate(-88 15.500 15.500)" stroke-linecap="round"/></svg>
<svg class="b" style="left:627.4px;top:554.9px" width="14" height="9" viewBox="0 0 14 9"><path d="M.5 2.500 L4 1 L7 2.200 L10 1 L13.500 2.500 L12.500 6 L8.500 8.300 C7.500 8.800 6.500 8.800 5.500 8.300 L1.500 6 Z" fill="#f7b731"/><path d="M4 1 L7 2.200 L9 4.500 L7.500 5.500 L5.500 3.800 Z" fill="#e09a1a"/></svg>
<span class="t" style="left:659.4px;top:546.6px;font-size:11px;line-height:11px;color:#2b2b2b;font-weight:700;letter-spacing:-0.13px;transform:scaleX(0.950);">Partner Admin</span>
<svg class="b" style="left:659.7px;top:561.5px" width="10" height="7.800" viewBox="0 0 9 7" fill="none" stroke="#777" stroke-width=".75"><path d="M.5 3.500 C2 .8 7 .8 8.500 3.500 C7 6.200 2 6.200 .5 3.500 Z"/><circle cx="4.500" cy="3.500" r="1.500"/></svg>
<span class="t" style="left:672.5px;top:561.7px;font-size:7.4px;line-height:7.4px;color:#939393;transform:scaleX(0.973);">25 Views</span>
<svg class="b" style="left:708.2px;top:560.9px" width="9" height="9" viewBox="0 0 9 9" fill="none" stroke="#777" stroke-width=".8" stroke-linecap="round"><circle cx="4.500" cy="4.500" r="3.800"/><path d="M4.500 2.400 V4.500 L5.800 5.400"/></svg>
<span class="t" style="left:720.5px;top:561.7px;font-size:7.4px;line-height:7.4px;color:#939393;transform:scaleX(1.052);">Updated 5mo ago</span>
<svg class="b" style="left:618.9px;top:597.4px" width="31" height="31" viewBox="0 0 31 31"><circle cx="15.500" cy="15.500" r="14" fill="#fff" stroke="#f1e6e6" stroke-width="1.500"/><circle cx="15.500" cy="15.500" r="14" fill="none" stroke="#38d1b2" stroke-width="1.500" stroke-dasharray="72 16" transform="rotate(-88 15.500 15.500)" stroke-linecap="round"/></svg>
<svg class="b" style="left:628.4px;top:606.4px" width="12" height="13" viewBox="0 0 12 13"><rect x="2" y="1" width="2.500" height="4" fill="#c0392b"/><rect x="5" y=".5" width="2.500" height="4" fill="#8e6bbf"/><rect x="8" y="1.200" width="2.200" height="4" fill="#5b8def"/><rect x="0.500" y="3.500" width="11" height="9" rx="1" fill="#d8a877"/><rect x="0.500" y="3.500" width="11" height="2.500" fill="#c4935f"/></svg>
<span class="t" style="left:659.4px;top:601.2px;font-size:11px;line-height:11px;color:#2b2b2b;font-weight:700;letter-spacing:-0.09px;transform:scaleX(0.950);">Partnerships Pipeline Management</span>
<svg class="b" style="left:659.7px;top:616.7px" width="10" height="7.800" viewBox="0 0 9 7" fill="none" stroke="#777" stroke-width=".75"><path d="M.5 3.500 C2 .8 7 .8 8.500 3.500 C7 6.200 2 6.200 .5 3.500 Z"/><circle cx="4.500" cy="3.500" r="1.500"/></svg>
<span class="t" style="left:672.5px;top:616.9px;font-size:7.4px;line-height:7.4px;color:#939393;letter-spacing:-0.09px;transform:scaleX(0.950);">105 Views</span>
<svg class="b" style="left:710.7px;top:616.1px" width="9" height="9" viewBox="0 0 9 9" fill="none" stroke="#777" stroke-width=".8" stroke-linecap="round"><circle cx="4.500" cy="4.500" r="3.800"/><path d="M4.500 2.400 V4.500 L5.800 5.400"/></svg>
<span class="t" style="left:723.0px;top:616.9px;font-size:7.4px;line-height:7.4px;color:#939393;transform:scaleX(1.045);">Updated 2mo ago</span>
<svg class="b" style="left:618.9px;top:651.2px" width="31" height="31" viewBox="0 0 31 31"><circle cx="15.500" cy="15.500" r="14" fill="#fff" stroke="#f1e6e6" stroke-width="1.500"/><circle cx="15.500" cy="15.500" r="14" fill="none" stroke="#38d1b2" stroke-width="1.500" stroke-dasharray="72 16" transform="rotate(-88 15.500 15.500)" stroke-linecap="round"/></svg>
<svg class="b" style="left:627.4px;top:662.2px" width="14" height="9" viewBox="0 0 14 9"><path d="M.5 2.500 L4 1 L7 2.200 L10 1 L13.500 2.500 L12.500 6 L8.500 8.300 C7.500 8.800 6.500 8.800 5.500 8.300 L1.500 6 Z" fill="#f7b731"/><path d="M4 1 L7 2.200 L9 4.500 L7.500 5.500 L5.500 3.800 Z" fill="#e09a1a"/></svg>
<span class="t" style="left:659.4px;top:654.9px;font-size:11px;line-height:11px;color:#2b2b2b;font-weight:700;letter-spacing:-0.24px;transform:scaleX(0.950);">Active Partnerships</span>
<div class="b" style="left:0.0px;top:665.0px;width:1024.0px;height:1.0px;background:#ececec;border-radius:0px;"></div>
<div class="b" style="left:0.0px;top:666.0px;width:1024.0px;height:1.0px;background:#cdcdcd;border-radius:0px;"></div>
</body></html>
